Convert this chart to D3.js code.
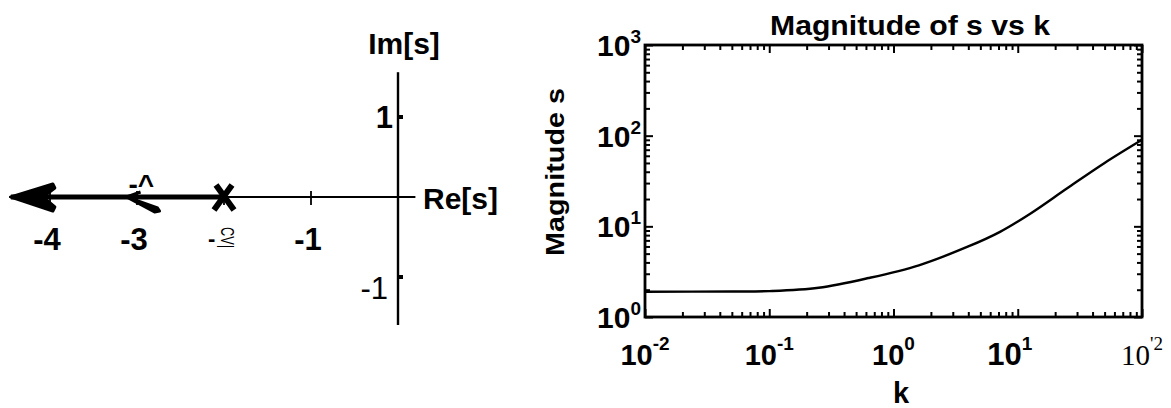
<!DOCTYPE html>
<html lang="en-US">
<head>
<meta charset="utf-8">
<style>
  body { margin: 0; background: #fff; }
  svg { display: block; }
  text { font-family: "Liberation Sans", Arial, Helvetica, sans-serif; fill: #000; }
</style>
</head>
<body>
<div id="chart"></div>
<script src="https://cdnjs.cloudflare.com/ajax/libs/d3/7.8.5/d3.min.js"></script>
<script>
var WIDTH = 1171;
var HEIGHT = 408;

// ---- left panel: root locus ----
var reTicks = [-4, -3, -2, -1];
var reTickLabels = ["-4", "-3", "-2", "-1"];
var imTicks = [1, -1];
var imTickLabels = ["1", "-1"];
var poleRe = [-2];
var locusRe = [-2, -4.45];     // branch leaves the pole and runs to -inf
var arrowRe = [-4.45, -3.12];  // arrow heads along the branch

// ---- right panel: |s| vs k ----
var kVals   = [0.01, 0.05, 0.1, 0.25, 0.63, 1.6, 4, 7.2, 12.6, 25, 50, 100];
var magVals = [1.90, 1.91, 1.93, 2.10, 2.69, 3.72, 6.0, 8.7, 13.8, 26.3, 50, 90];
var xTickVals = [0.01, 0.1, 1, 10, 100];
var xTickExp  = ["-2", "-1", "0", "1", "2"];
var yTickVals = [1, 10, 100, 1000];
var yTickExp  = ["0", "1", "2", "3"];

var svg = d3.select("#chart").append("svg").attr("width", WIDTH).attr("height", HEIGHT);

// ================= root locus =================
var xr = d3.scaleLinear().domain([-4, 0]).range([50, 398]);
var yi = d3.scaleLinear().domain([-1, 1]).range([277, 117]);
var left = svg.append("g");

// real axis (thin) and imaginary axis
left.append("line").attr("x1", xr(-4.47)).attr("x2", xr(0.2))
  .attr("y1", yi(0)).attr("y2", yi(0)).attr("stroke", "#000").attr("stroke-width", 2.2);
left.append("line").attr("x1", xr(0)).attr("x2", xr(0))
  .attr("y1", yi(1.56)).attr("y2", yi(-1.6)).attr("stroke", "#000").attr("stroke-width", 2.4);

// ticks on the real axis
left.selectAll(".rtick").data(reTicks).join("line")
  .attr("x1", d => xr(d)).attr("x2", d => xr(d))
  .attr("y1", yi(0) - 6).attr("y2", yi(0) + 8)
  .attr("stroke", "#000").attr("stroke-width", 1.8);
// ticks on the imaginary axis
left.selectAll(".itick").data(imTicks).join("line")
  .attr("x1", xr(0)).attr("x2", xr(0) + 5)
  .attr("y1", d => yi(d)).attr("y2", d => yi(d))
  .attr("stroke", "#000").attr("stroke-width", 4);

// locus branch (thick)
left.append("line").attr("x1", xr(locusRe[0])).attr("x2", xr(locusRe[1]))
  .attr("y1", yi(0)).attr("y2", yi(0)).attr("stroke", "#000").attr("stroke-width", 5);

// arrow heads
left.selectAll(".arrow").data(arrowRe).join("path")
  .attr("transform", d => "translate(" + xr(d) + "," + yi(0) + ")")
  .attr("d", (d, i) => i === 0
    ? "M0,0 L42,-13 L44,-9 L32,0 L44,10 L42,14 Z"
    : "M0,0 L31,11 L33,14 L28,15 Z M0,0 L14,-5")
  .attr("fill", "#000").attr("stroke", "#000").attr("stroke-width", 3).attr("stroke-linejoin", "round");
left.append("text").attr("x", xr(arrowRe[1]) + 2).attr("y", yi(0) - 3)
  .attr("font-size", 28).attr("font-weight", "bold").text("-^");

// pole marker
left.selectAll(".pole").data(poleRe).join("path")
  .attr("transform", d => "translate(" + xr(d) + "," + yi(0) + ")")
  .attr("d", "M-8,-12 L10,13 M8,-12 L-10,13")
  .attr("stroke", "#000").attr("stroke-width", 6).attr("fill", "none");

// real axis labels
reTicks.forEach(function (t, i) {
  if (reTickLabels[i] === "-2") {
    // scanned label: dash plus a sideways glyph
    left.append("text").attr("x", xr(t) - 16).attr("y", 246).attr("font-size", 22).attr("font-weight", "bold").text("-");
    left.append("text").attr("transform", "translate(" + (xr(t) - 3) + ",227) rotate(90)")
      .attr("font-size", 18).attr("textLength", 21).attr("lengthAdjust", "spacingAndGlyphs").text("CV|");
  } else {
    left.append("text").attr("x", xr(t) - 3).attr("y", 250).attr("text-anchor", "middle")
      .attr("font-size", 31).attr("font-weight", "bold").text(reTickLabels[i]);
  }
});
// imaginary axis labels
left.selectAll(".ilab").data(imTicks).join("text")
  .attr("x", d => d > 0 ? 393 : 388).attr("y", d => yi(d) + (d > 0 ? 11 : 22))
  .attr("text-anchor", "end").attr("font-size", 31).attr("font-weight", d => d > 0 ? "bold" : "normal")
  .text((d, i) => imTickLabels[i]);

left.append("text").attr("x", 404).attr("y", 54).attr("text-anchor", "middle")
  .attr("font-size", 30).attr("font-weight", "bold").text("Im[s]");
left.append("text").attr("x", 423).attr("y", 209)
  .attr("font-size", 30).attr("font-weight", "bold").text("Re[s]");

// ================= magnitude plot =================
var x = d3.scaleLog().domain([0.01, 100]).range([645, 1142]);
var y = d3.scaleLog().domain([1, 1000]).range([317, 45]);
var right = svg.append("g");

var xMinor = x.ticks();
var yMinor = y.ticks();
function tickLen(v) { return Math.abs(Math.log10(v) - Math.round(Math.log10(v))) < 1e-9 ? -8 : -5; }

right.append("g").attr("transform", "translate(0,317)")
  .call(d3.axisBottom(x).tickValues(xMinor).tickSize(-5).tickFormat(""))
  .call(g => g.selectAll(".tick line").attr("y2", d => tickLen(d)).attr("stroke-width", 2));
right.append("g").attr("transform", "translate(0,45)")
  .call(d3.axisTop(x).tickValues(xMinor).tickSize(-5).tickFormat(""))
  .call(g => g.selectAll(".tick line").attr("y2", d => -tickLen(d)).attr("stroke-width", 2));
right.append("g").attr("transform", "translate(645,0)")
  .call(d3.axisLeft(y).tickValues(yMinor).tickSize(-5).tickFormat(""))
  .call(g => g.selectAll(".tick line").attr("x2", d => -tickLen(d)).attr("stroke-width", 2));
right.append("g").attr("transform", "translate(1142,0)")
  .call(d3.axisRight(y).tickValues(yMinor).tickSize(-5).tickFormat(""))
  .call(g => g.selectAll(".tick line").attr("x2", d => tickLen(d)).attr("stroke-width", 2));
right.selectAll(".domain").remove();

right.append("rect").attr("x", 645).attr("y", 45).attr("width", 1142 - 645).attr("height", 317 - 45)
  .attr("fill", "none").attr("stroke", "#000").attr("stroke-width", 2.8);

// curve
var line = d3.line().x((d, i) => x(kVals[i])).y(d => y(d)).curve(d3.curveCatmullRom.alpha(0.5));
right.append("path").datum(magVals).attr("d", line)
  .attr("fill", "none").attr("stroke", "#000").attr("stroke-width", 2.4);

// y tick labels
yTickVals.forEach(function (v, i) {
  var t = right.append("text").attr("x", 641).attr("y", y(v) + 11).attr("text-anchor", "end")
    .attr("font-size", 30).attr("font-weight", "bold");
  t.append("tspan").text("10");
  t.append("tspan").attr("dy", -13).attr("font-size", 19).text(yTickExp[i]);
});
// x tick labels
xTickVals.forEach(function (v, i) {
  var serif = v === 100;
  var t = right.append("text").attr("x", x(v) - (v === 10 ? 8 : 0)).attr("y", 365).attr("text-anchor", "middle")
    .attr("font-size", serif ? 29 : (v === 10 ? 31 : 29)).attr("font-weight", serif ? "normal" : "bold")
    .style("font-family", serif ? "'Liberation Serif', 'Times New Roman', serif" : null);
  t.append("tspan").text("10");
  t.append("tspan").attr("dy", -15).attr("font-size", 19).text(serif ? "'" + xTickExp[i] : xTickExp[i]);
});

right.append("text").attr("x", 910).attr("y", 35).attr("text-anchor", "middle")
  .attr("font-size", 28).attr("font-weight", "bold")
  .attr("textLength", 280).attr("lengthAdjust", "spacingAndGlyphs").text("Magnitude of s vs k");
right.append("text").attr("x", 901).attr("y", 403).attr("text-anchor", "middle")
  .attr("font-size", 29).attr("font-weight", "bold").text("k");
right.append("text").attr("transform", "translate(564,172) rotate(-90)").attr("text-anchor", "middle")
  .attr("font-size", 26).attr("font-weight", "bold")
  .attr("textLength", 168).attr("lengthAdjust", "spacingAndGlyphs").text("Magnitude s");
</script>
</body>
</html>
